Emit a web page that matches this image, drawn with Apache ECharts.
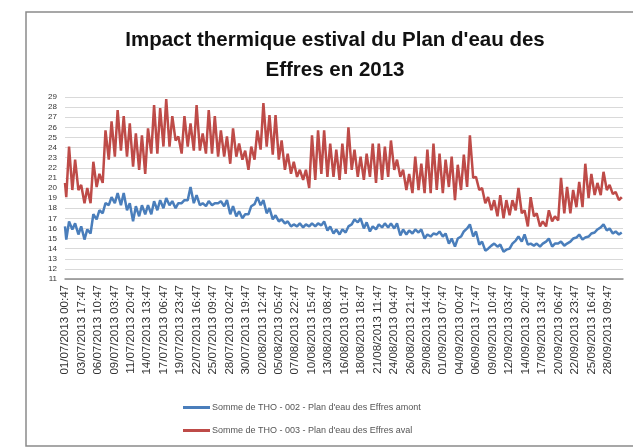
<!DOCTYPE html>
<html>
<head>
    <meta charset="utf-8">
    <title>Impact thermique estival du Plan d'eau des Effres en 2013</title>
    <script src="https://cdn.jsdelivr.net/npm/echarts@6.0.0/dist/echarts.min.js"></script>
    <style>
        html, body { margin: 0; padding: 0; background: #fff; }
        #main { width: 633px; height: 448px; }
    </style>
</head>
<body>
    <div id="main"></div>
    <script>
        // x axis tick labels (one every 65 hours)
        const tickLabels = [
            '01/07/2013 00:47', '03/07/2013 17:47', '06/07/2013 10:47', '09/07/2013 03:47',
            '11/07/2013 20:47', '14/07/2013 13:47', '17/07/2013 06:47', '19/07/2013 23:47',
            '22/07/2013 16:47', '25/07/2013 09:47', '28/07/2013 02:47', '30/07/2013 19:47',
            '02/08/2013 12:47', '05/08/2013 05:47', '07/08/2013 22:47', '10/08/2013 15:47',
            '13/08/2013 08:47', '16/08/2013 01:47', '18/08/2013 18:47', '21/08/2013 11:47',
            '24/08/2013 04:47', '26/08/2013 21:47', '29/08/2013 14:47', '01/09/2013 07:47',
            '04/09/2013 00:47', '06/09/2013 17:47', '09/09/2013 10:47', '12/09/2013 03:47',
            '14/09/2013 20:47', '17/09/2013 13:47', '20/09/2013 06:47', '22/09/2013 23:47',
            '25/09/2013 16:47', '28/09/2013 09:47'
        ];

        const seriesNames = [
            'Somme de THO - 002 - Plan d\'eau des Effres amont',
            'Somme de THO - 003 - Plan d\'eau des Effres aval'
        ];

        // valeurs : minimum du matin / maximum de l'après-midi, jour par jour
        const amontStart = 16.2;
        const amontLow = [
            14.9, 15.9, 15.4, 14.9, 15.5, 16.9, 17.5, 18.3, 18.5, 18.3,
            17.8, 16.7, 17.2, 17.4, 17.4, 17.8, 18.0, 18.3, 18.0, 18.5,
            18.8, 18.5, 18.3, 18.2, 18.3, 18.5, 18.2, 17.4, 17.2, 17.0,
            17.4, 18.4, 18.3, 17.5, 16.9, 16.7, 16.5, 16.2, 16.2, 16.1,
            16.2, 16.2, 16.3, 15.8, 15.5, 15.4, 15.6, 16.4, 16.6, 16.0,
            15.7, 15.9, 16.1, 16.1, 16.0, 15.3, 15.4, 15.5, 15.6, 15.0,
            15.2, 15.4, 15.2, 14.5, 14.2, 15.2, 16.0, 15.2, 14.4, 13.8,
            14.3, 14.2, 13.7, 14.0, 14.8, 14.7, 14.4, 14.3, 14.2, 14.7,
            14.2, 14.5, 14.3, 14.7, 15.1, 14.9, 15.2, 15.6, 16.1, 15.8,
            15.5, 15.4
        ];
        const amontHigh = [
            16.7, 16.5, 16.2, 15.9, 17.4, 17.8, 18.5, 19.1, 19.5, 19.5,
            18.5, 18.2, 18.3, 18.3, 18.7, 18.8, 19.0, 18.7, 18.5, 18.8,
            20.1, 19.3, 18.5, 18.7, 18.5, 18.7, 18.8, 18.2, 17.7, 17.4,
            18.2, 19.1, 18.8, 18.0, 17.3, 16.9, 16.7, 16.4, 16.5, 16.4,
            16.5, 16.5, 16.7, 16.2, 15.9, 15.9, 16.2, 16.9, 17.0, 16.6,
            16.2, 16.4, 16.5, 16.5, 16.5, 15.9, 15.8, 15.9, 15.9, 15.4,
            15.5, 15.7, 15.5, 15.0, 15.0, 15.7, 16.4, 15.7, 14.7, 14.0,
            14.5, 14.4, 13.9, 14.5, 15.2, 15.4, 14.5, 14.5, 14.5, 15.0,
            14.5, 14.7, 14.5, 15.0, 15.4, 15.1, 15.5, 15.9, 16.4, 16.0,
            15.7, 15.6
        ];

        const avalStart = 20.5;
        const avalLow = [
            19.1, 19.8, 19.8, 18.5, 18.5, 20.1, 20.5, 22.8, 23.1, 23.7,
            23.1, 22.1, 21.8, 21.4, 23.4, 23.4, 24.1, 24.1, 24.7, 23.4,
            24.1, 23.7, 23.7, 23.4, 23.4, 23.1, 23.1, 22.4, 23.1, 22.8,
            21.8, 22.8, 23.8, 24.1, 23.3, 22.8, 21.8, 21.4, 21.1, 20.8,
            20.0, 20.8, 21.4, 21.1, 21.1, 20.8, 21.4, 21.8, 21.1, 20.8,
            21.1, 20.5, 20.8, 21.1, 21.8, 21.1, 19.8, 19.5, 19.8, 19.5,
            19.5, 19.8, 19.5, 20.1, 18.8, 19.8, 20.1, 21.0, 19.8, 18.5,
            17.8, 17.2, 17.0, 17.3, 17.8, 17.5, 16.2, 17.2, 16.2, 16.2,
            16.7, 16.8, 17.5, 17.5, 18.1, 18.1, 19.0, 19.3, 19.3, 19.8,
            19.4, 18.8
        ];
        const avalHigh = [
            24.1, 22.8, 20.3, 20.0, 22.6, 21.4, 25.7, 26.6, 27.7, 27.1,
            26.4, 25.4, 25.2, 25.9, 28.2, 27.9, 28.8, 27.1, 25.1, 27.1,
            26.4, 28.2, 25.4, 27.7, 27.1, 25.7, 25.1, 25.9, 24.4, 23.7,
            24.1, 25.7, 28.4, 27.2, 27.2, 24.7, 23.4, 22.6, 21.8, 21.8,
            25.2, 25.7, 25.7, 24.4, 23.8, 24.4, 26.0, 23.8, 23.1, 23.4,
            24.4, 24.4, 24.1, 24.7, 22.8, 21.8, 21.4, 23.1, 22.4, 23.8,
            24.4, 23.4, 22.8, 23.1, 22.3, 23.3, 25.2, 21.1, 20.0, 19.1,
            18.8, 19.3, 18.8, 18.8, 20.0, 17.8, 19.1, 17.5, 16.7, 17.8,
            17.2, 21.0, 20.1, 19.8, 20.6, 22.4, 21.4, 20.5, 21.6, 20.3,
            19.6, 19.1
        ];

        // heures écoulées depuis le 01/07/2013 00:47
        const lastHour = 2205;
        const tickStep = 65;

        function buildPoints(start, lows, highs) {
            const pts = [[0, start]];
            for (let d = 0; d < lows.length; d++) {
                pts.push([d * 24 + 5, lows[d]]);
                pts.push([d * 24 + 16, highs[d]]);
            }
            return pts;
        }

        var myChart = echarts.init(document.getElementById('main'));

        const font = 'Liberation Sans';

        const option = {
            animation: false,
            backgroundColor: '#fff',
            textStyle: { fontFamily: font },
            title: {
                text: 'Impact thermique estival du Plan d\'eau des\nEffres en 2013',
                left: 335,
                top: 25,
                textAlign: 'center',
                padding: 0,
                textStyle: {
                    fontFamily: font,
                    fontSize: 20.5,
                    fontWeight: 'bold',
                    lineHeight: 30,
                    color: '#111'
                }
            },
            graphic: [{
                type: 'rect',
                shape: { x: 26, y: 12, width: 640, height: 434 },
                style: { fill: 'none', stroke: '#8a8a8a', lineWidth: 1.5 },
                silent: true
            }],
            legend: {
                orient: 'vertical',
                left: 183,
                top: 403,
                itemWidth: 27,
                itemHeight: 3,
                itemGap: 14,
                icon: 'rect',
                padding: 0,
                textStyle: { fontFamily: font, fontSize: 9, color: '#555', padding: [0, 0, 0, -3] },
                data: seriesNames
            },
            grid: {
                left: 65,
                right: 10,
                top: 97,
                bottom: 169,
                containLabel: false
            },
            xAxis: {
                type: 'value',
                min: 0,
                max: lastHour,
                interval: tickStep,
                axisLine: { show: true, lineStyle: { color: '#8c8c8c', width: 1.5 } },
                axisTick: { show: false },
                splitLine: { show: false },
                axisLabel: {
                    rotate: 90,
                    fontSize: 11.5,
                    color: '#333',
                    margin: 6,
                    showMaxLabel: false,
                    formatter: function (v) {
                        const i = Math.round(v / tickStep);
                        return tickLabels[i] || '';
                    }
                }
            },
            yAxis: {
                type: 'value',
                min: 11,
                max: 29,
                interval: 1,
                axisLine: { show: false },
                axisTick: { show: false },
                splitLine: { lineStyle: { color: '#d9d9d9', width: 1 } },
                axisLabel: { fontSize: 8, color: '#333', margin: 8 }
            },
            series: [
                {
                    name: seriesNames[0],
                    type: 'line',
                    showSymbol: false,
                    lineStyle: { color: '#4a7ebb', width: 2.5 },
                    itemStyle: { color: '#4a7ebb' },
                    data: buildPoints(amontStart, amontLow, amontHigh)
                },
                {
                    name: seriesNames[1],
                    type: 'line',
                    showSymbol: false,
                    lineStyle: { color: '#be4b48', width: 2.5 },
                    itemStyle: { color: '#be4b48' },
                    data: buildPoints(avalStart, avalLow, avalHigh)
                }
            ]
        };

        myChart.setOption(option);

        window.addEventListener('resize', function () {
            myChart.resize();
        });
    </script>
</body>
</html>
